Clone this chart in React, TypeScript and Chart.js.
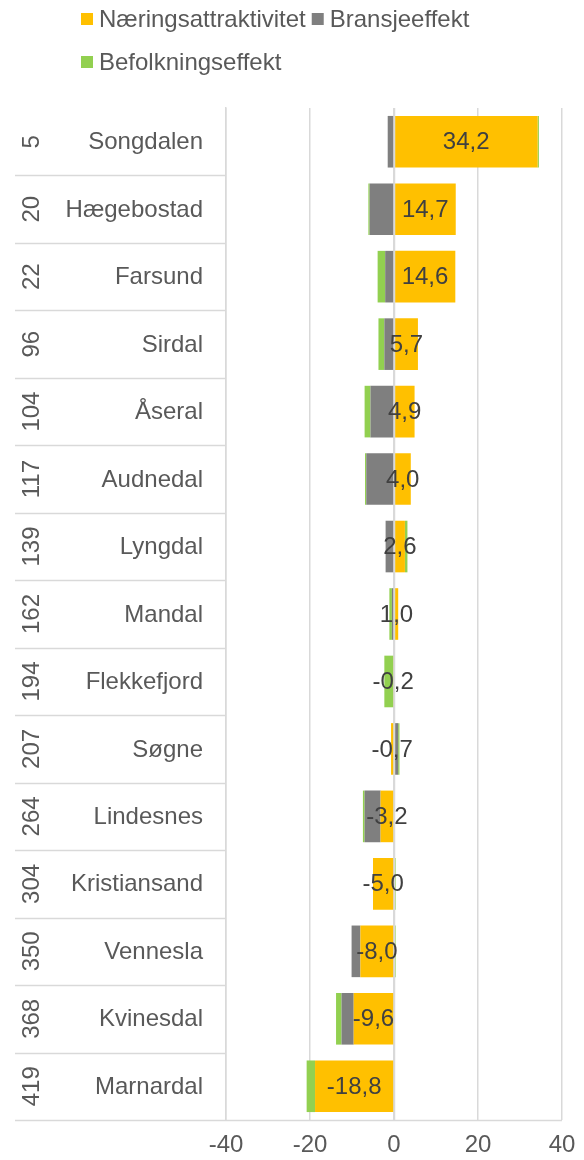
import React, { useEffect, useRef } from "react";
import { Chart, registerables } from "chart.js";

Chart.register(...registerables);

const ranks = ["5", "20", "22", "96", "104", "117", "139", "162", "194", "207", "264", "304", "350", "368", "419"];
const municipalities = [
  "Songdalen", "Hægebostad", "Farsund", "Sirdal", "Åseral", "Audnedal", "Lyngdal", "Mandal",
  "Flekkefjord", "Søgne", "Lindesnes", "Kristiansand", "Vennesla", "Kvinesdal", "Marnardal",
];
const naeringsattraktivitet = [34.2, 14.7, 14.6, 5.7, 4.9, 4.0, 2.6, 1.0, -0.2, -0.7, -3.2, -5.0, -8.0, -9.6, -18.8];
const bransjeeffekt = [-1.5, -5.8, -2.1, -2.3, -5.6, -6.6, -2.0, -0.5, 0, 1.0, -3.8, 0, -2.1, -2.9, 0];
const befolkningseffekt = [0.3, -0.3, -1.8, -1.4, -1.4, -0.3, 0.6, -0.6, -2.1, 0.3, -0.4, 0.4, 0.4, -1.3, -2.0];
const xTickValues = [-40, -20, 0, 20, 40];
const seriesNames = ["Næringsattraktivitet", "Bransjeeffekt", "Befolkningseffekt"];
const seriesColors = ["#FFC000", "#7F7F7F", "#92D050"];

const FONT = '"Liberation Sans", Arial, Helvetica, sans-serif';
const GRID = "#D9D9D9";
const TEXT = "#595959";

const fmt = (v: number) => v.toFixed(1).replace(".", ",");

const overlayPlugin = {
  id: "overlay",
  afterDatasetsDraw(chart: any) {
    const ctx = chart.ctx as CanvasRenderingContext2D;
    const { top, bottom } = chart.chartArea;
    const xs = chart.scales.x;
    ctx.save();
    // zero line drawn above bars
    const x0 = Math.round(xs.getPixelForValue(0)) + 0.5;
    ctx.strokeStyle = GRID;
    ctx.lineWidth = 1.5;
    ctx.beginPath();
    ctx.moveTo(x0, top);
    ctx.lineTo(x0, bottom);
    ctx.stroke();
    // data labels (Næringsattraktivitet value, centered on its bar)
    const meta = chart.getDatasetMeta(0);
    ctx.font = `24px ${FONT}`;
    ctx.fillStyle = "#404040";
    ctx.textAlign = "center";
    ctx.textBaseline = "middle";
    meta.data.forEach((el: any, i: number) => {
      const p = el.getProps(["x", "y", "base"], true);
      ctx.fillText(fmt(naeringsattraktivitet[i]), (p.x + p.base) / 2, p.y + 1);
    });
    ctx.restore();
  },
  afterDraw(chart: any) {
    const ctx = chart.ctx as CanvasRenderingContext2D;
    const { top, bottom, left, right } = chart.chartArea;
    const ys = chart.scales.y;
    const n = municipalities.length;
    const rowH = (bottom - top) / n;
    ctx.save();
    // separators in the label area
    ctx.strokeStyle = GRID;
    ctx.lineWidth = 1.5;
    for (let k = 1; k <= n; k++) {
      const yy = Math.round(top + k * rowH) + 0.5;
      ctx.beginPath();
      ctx.moveTo(7, yy);
      ctx.lineTo(k === n ? right : left, yy);
      ctx.stroke();
    }
    // category labels
    ctx.fillStyle = TEXT;
    ctx.font = `24px ${FONT}`;
    ctx.textBaseline = "middle";
    for (let i = 0; i < n; i++) {
      const cy = ys.getPixelForValue(i);
      ctx.textAlign = "right";
      ctx.fillText(municipalities[i], 195, cy + 1);
      ctx.save();
      ctx.translate(23.5, cy);
      ctx.rotate(-Math.PI / 2);
      ctx.textAlign = "center";
      ctx.fillText(ranks[i], 0, 1);
      ctx.restore();
    }
    // legend
    const drawItem = (bx: number, cy: number, idx: number) => {
      ctx.fillStyle = seriesColors[idx];
      ctx.fillRect(bx, cy - 6, 12, 12);
      ctx.fillStyle = TEXT;
      ctx.textAlign = "left";
      ctx.fillText(seriesNames[idx], bx + 18, cy + 1);
      return bx + 18 + ctx.measureText(seriesNames[idx]).width;
    };
    const end1 = drawItem(73, 11, 0);
    drawItem(end1 + 6, 11, 1);
    drawItem(73, 54, 2);
    ctx.restore();
  },
};

export default function App() {
  const ref = useRef<HTMLCanvasElement | null>(null);
  useEffect(() => {
    if (!ref.current) return;
    const chart = new Chart(ref.current, {
      type: "bar",
      data: {
        labels: municipalities,
        datasets: [
          { label: seriesNames[0], data: naeringsattraktivitet, backgroundColor: seriesColors[0] },
          { label: seriesNames[1], data: bransjeeffekt, backgroundColor: seriesColors[1] },
          { label: seriesNames[2], data: befolkningseffekt, backgroundColor: seriesColors[2] },
        ],
      },
      options: {
        indexAxis: "y",
        animation: false,
        responsive: false,
        maintainAspectRatio: false,
        devicePixelRatio: 1,
        layout: { padding: { top: 100, right: 0, left: 0, bottom: 0 } },
        datasets: { bar: { categoryPercentage: 0.765, barPercentage: 1 } },
        plugins: { legend: { display: false }, tooltip: { enabled: false } },
        scales: {
          x: {
            stacked: true,
            min: -40,
            max: 40,
            afterBuildTicks: (s: any) => {
              s.ticks = xTickValues.map((v) => ({ value: v }));
            },
            grid: { color: GRID, lineWidth: 1.5, drawTicks: false },
            border: { display: false },
            ticks: {
              padding: 16,
              color: TEXT,
              font: { family: FONT, size: 24, lineHeight: 0.75 },
              callback: (v: any) => String(v),
            },
            afterFit: (s: any) => {
              s.height = 40;
              s.paddingRight = 14;
              s.paddingLeft = 0;
            },
          },
          y: {
            stacked: true,
            grid: { display: false },
            border: { display: true, color: GRID, width: 1.5 },
            ticks: { display: false },
            afterFit: (s: any) => {
              s.width = 218;
            },
          },
        },
      },
      plugins: [overlayPlugin],
    } as any);
    return () => chart.destroy();
  }, []);
  return (
    <div style={{ width: 568, height: 1152, marginBottom: -8 }}>
      <canvas ref={ref} width={568} height={1152} style={{ display: "block", width: 568, height: 1152 }} />
    </div>
  );
}
